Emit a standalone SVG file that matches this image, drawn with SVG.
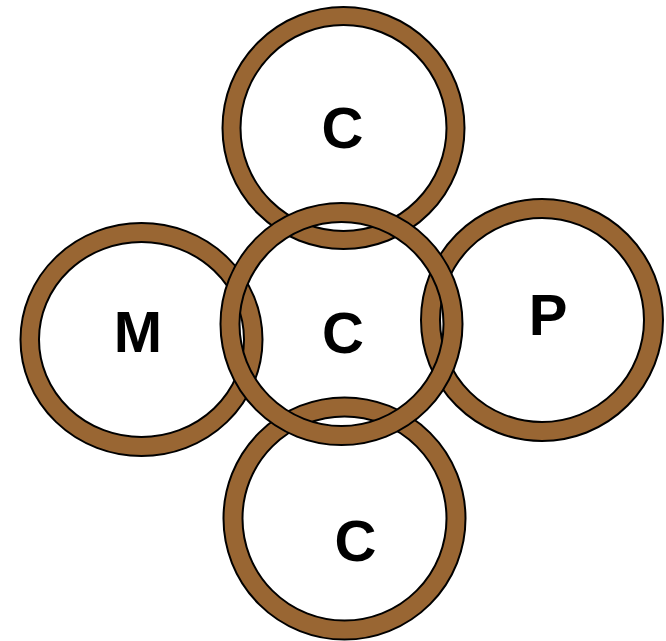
<svg xmlns="http://www.w3.org/2000/svg" width="666" height="641" viewBox="0 0 666 641">
<style>
.ring{fill:#996633;fill-rule:evenodd;stroke:#000;stroke-width:2}
.lbl{font-family:"Liberation Sans",Arial,sans-serif;font-weight:bold;font-size:58px;fill:#000;text-anchor:middle}
</style>
<rect width="666" height="641" fill="#fff"/>
<g id="node-top">
<path class="ring" d="M222.5,128 a121,121 0 1,0 242,0 a121,121 0 1,0 -242,0 Z M240.5,128 a103,103 0 1,0 206,0 a103,103 0 1,0 -206,0 Z"/>
<text class="lbl" x="342.5" y="148">C</text>
</g>
<g id="node-bottom">
<path class="ring" d="M223.5,518.5 a121,121 0 1,0 242,0 a121,121 0 1,0 -242,0 Z M242.5,518.5 a102,102 0 1,0 204,0 a102,102 0 1,0 -204,0 Z"/>
<text class="lbl" x="355.5" y="561">C</text>
</g>
<g id="node-m">
<path class="ring" d="M20.5,339.5 a121,116.5 0 1,0 242,0 a121,116.5 0 1,0 -242,0 Z M39,339.5 a102.5,97.5 0 1,0 205,0 a102.5,97.5 0 1,0 -205,0 Z"/>
<text class="lbl" x="138" y="352">M</text>
</g>
<g id="node-p">
<path class="ring" d="M421,320 a121,121 0 1,0 242,0 a121,121 0 1,0 -242,0 Z M440,320 a102,102 0 1,0 204,0 a102,102 0 1,0 -204,0 Z"/>
<text class="lbl" x="548" y="335">P</text>
</g>
<g id="node-center">
<path class="ring" d="M220.5,324 a121,121 0 1,0 242,0 a121,121 0 1,0 -242,0 Z M239.5,324 a102,102 0 1,0 204,0 a102,102 0 1,0 -204,0 Z"/>
<text class="lbl" x="343" y="353">C</text>
</g>
<g id="connectors"></g>
</svg>
